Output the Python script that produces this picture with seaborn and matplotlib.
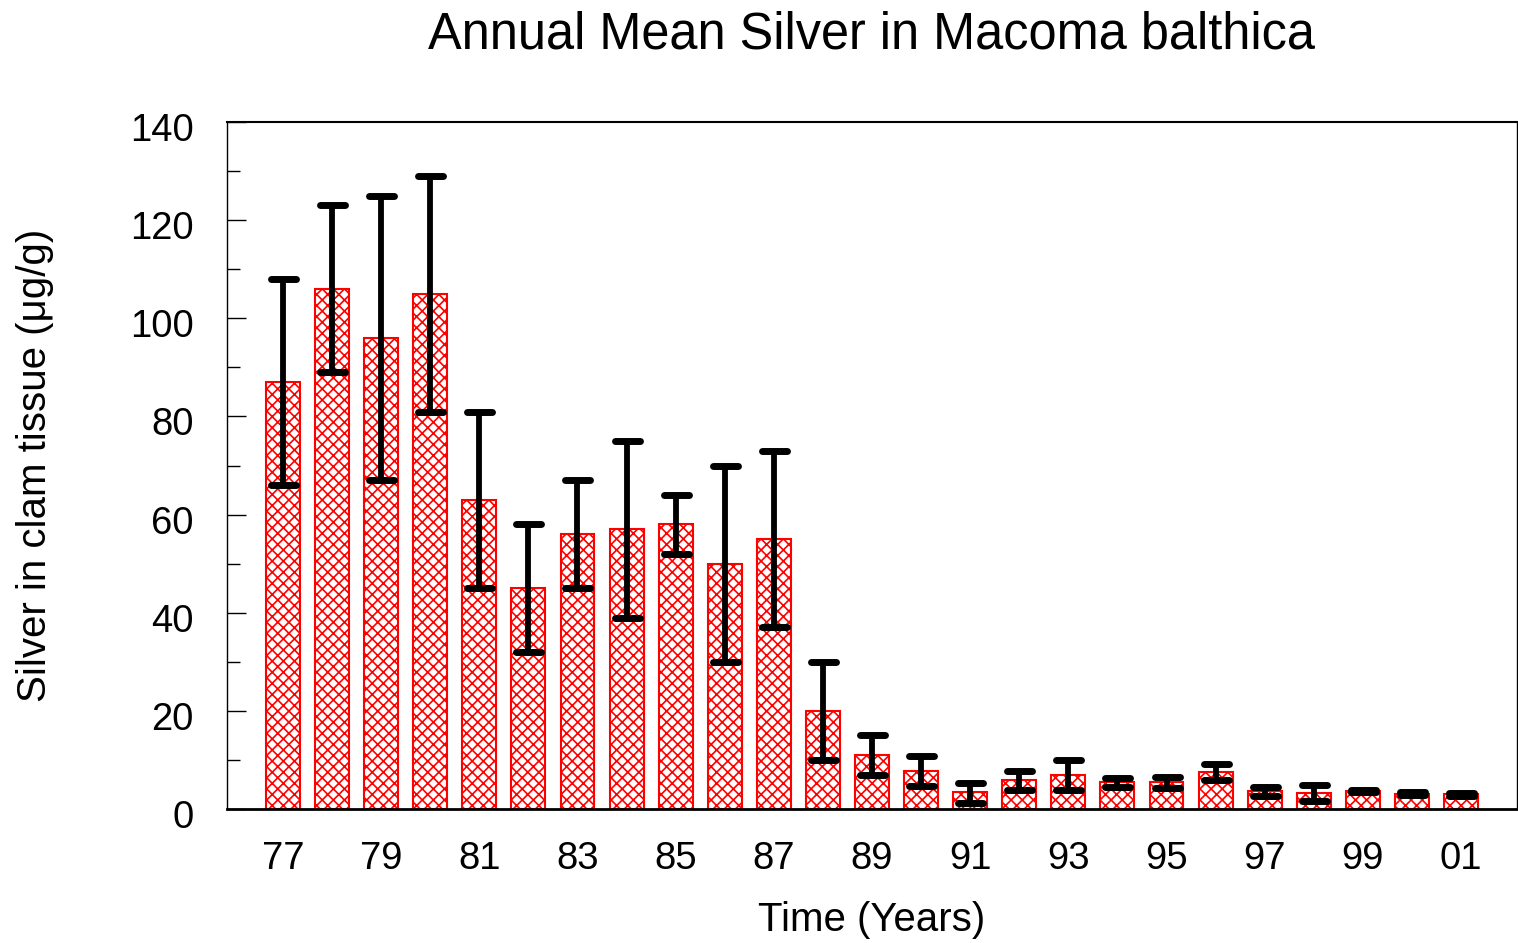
import numpy as np
import pandas as pd
import matplotlib
matplotlib.use("Agg")
import matplotlib.pyplot as plt
from matplotlib.markers import MarkerStyle
from matplotlib.transforms import ScaledTranslation
import seaborn as sns

# =========================================================
# DATA
# =========================================================
years = ["77", "78", "79", "80", "81", "82", "83", "84", "85", "86", "87", "88", "89",
         "90", "91", "92", "93", "94", "95", "96", "97", "98", "99", "00", "01"]
mean_ag = [87, 106, 96, 105, 63, 45, 56, 57, 58, 50, 55, 20, 11,
           7.7, 3.4, 6.0, 7.0, 5.5, 5.5, 7.6, 3.7, 3.3, 3.7, 3.1, 3.0]
lower_ag = [66, 89, 67, 81, 45, 32, 45, 39, 52, 30, 37, 10, 7,
            4.7, 1.3, 3.9, 3.9, 4.4, 4.3, 6.0, 2.6, 1.7, 3.4, 2.8, 2.7]
upper_ag = [108, 123, 125, 129, 81, 58, 67, 75, 64, 70, 73, 30, 15,
            10.7, 5.3, 7.8, 9.9, 6.4, 6.6, 9.1, 4.5, 4.8, 3.9, 3.4, 3.3]
tick_labels = years[::2]

df = pd.DataFrame({"year": years, "mean": mean_ag, "lower": lower_ag, "upper": upper_ag})

# =========================================================
# STYLE
# =========================================================
sns.set_style("ticks")
plt.rcParams["font.family"] = ["Liberation Sans", "DejaVu Sans"]
plt.rcParams["hatch.linewidth"] = 1.2
plt.rcParams["text.color"] = "black"
plt.rcParams["axes.labelcolor"] = "black"
plt.rcParams["xtick.color"] = "black"
plt.rcParams["ytick.color"] = "black"

fig = plt.figure(figsize=(15.18, 9.43), dpi=100)
ax = fig.add_axes([227 / 1518, 1 - 809 / 943, 1290 / 1518, 687 / 943])

# =========================================================
# BARS + ERROR BARS
# =========================================================
sns.barplot(data=df, x="year", y="mean", color="white", edgecolor="red",
            linewidth=1.5, width=0.69, errorbar=None, ax=ax)
for p in ax.patches:
    p.set_facecolor("white")
    p.set_hatch("xxx")
    p.set_edgecolor("red")

xpos = np.arange(len(df))
yerr = [df["mean"] - df["lower"], df["upper"] - df["mean"]]
_, caps, _ = ax.errorbar(xpos, df["mean"], yerr=yerr, fmt="none", ecolor="black",
                         elinewidth=4.2, capsize=9, capthick=5, zorder=5)
for c in caps:
    c.set_marker(MarkerStyle("_", capstyle="round"))

# =========================================================
# AXES
# =========================================================
ax.set_xlim(-1.14, 25.14)
ax.set_ylim(0, 140)
ax.set_xticks(xpos[::2])
ax.set_xticklabels(tick_labels)
ax.set_yticks(np.arange(0, 141, 20))
ax.set_yticks(np.arange(10, 140, 20), minor=True)
ax.tick_params(axis="x", length=0, pad=23, labelsize=27.5, colors="black")
ax.tick_params(axis="y", which="major", direction="in", length=13.7, width=1,
               pad=24, labelsize=27.5, colors="black")
ax.tick_params(axis="y", which="minor", direction="in", length=9, width=1, colors="black")

# y tick labels sit a little below their ticks in the reference
shift = ScaledTranslation(0, -5 / 100, fig.dpi_scale_trans)
for lab in ax.get_yticklabels():
    lab.set_transform(lab.get_transform() + shift)

for side, lw in [("top", 1.5), ("bottom", 2), ("left", 1), ("right", 1)]:
    ax.spines[side].set_visible(True)
    ax.spines[side].set_linewidth(lw)
    ax.spines[side].set_color("black")

ax.set_xlabel("Time (Years)", fontsize=29)
ax.set_ylabel("Silver in clam tissue (μg/g)", fontsize=29)
ax.xaxis.set_label_coords(0.5, -0.1615)
ax.xaxis.label.set_va("center")
ax.yaxis.set_label_coords(-0.1488, 0.5)
ax.yaxis.label.set_va("center")
ax.set_title("Annual Mean Silver in Macoma balthica", fontsize=36.4, pad=53)

fig.savefig("out.png", dpi=100)
